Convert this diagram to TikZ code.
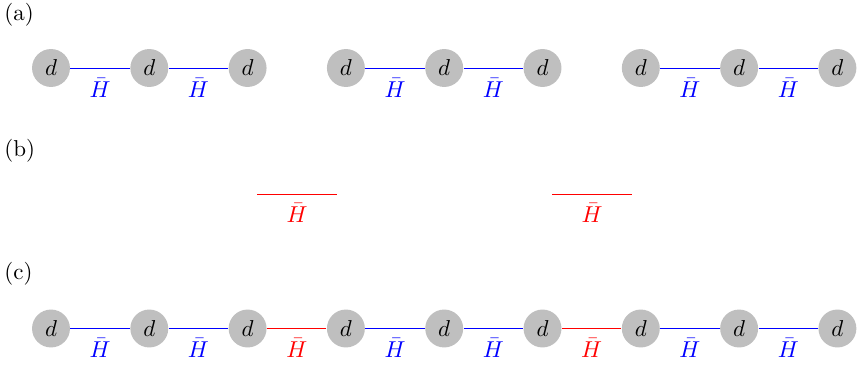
\documentclass[tikz,border=0pt]{standalone}
\usetikzlibrary{calc}
\begin{document}
\begin{tikzpicture}[x=0.435pt,y=-0.435pt,
  dnode/.style={circle,fill=gray!50,minimum size=16.5pt,inner sep=0pt},
  hlab/.style={anchor=base,inner sep=0pt},
  panel/.style={anchor=base west,inner sep=0pt}]
\useasboundingbox (0,0) rectangle (858,365);
\node[panel] (la) at (4,21) {(a)};
\node[panel] (lb) at (4,156) {(b)};
\node[panel] (lc) at (4,279) {(c)};
% nodes
\foreach \i in {0,...,8}{
  \node[dnode] (a\i) at ({51+98.3*\i},68) {$d$};
  \node[dnode] (c\i) at ({51+98.3*\i},328.5) {$d$};
}
% row (a)
\foreach \i/\j in {0/1,1/2,3/4,4/5,6/7,7/8}{
  \draw[blue] (a\i) -- (a\j);
  \node[hlab,text=blue] (ha\i) at ($(a\i)!0.5!(a\j)+(0,29)$) {$\bar{H}$};
}
% row (b)
\coordinate (b1s) at (257,194);
\coordinate (b1e) at (337,194);
\coordinate (b2s) at (552,194);
\coordinate (b2e) at (632,194);
\draw[red] (b1s) -- (b1e);
\draw[red] (b2s) -- (b2e);
\node[hlab,text=red] (hb1) at ($(b1s)!0.5!(b1e)+(0,28)$) {$\bar{H}$};
\node[hlab,text=red] (hb2) at ($(b2s)!0.5!(b2e)+(0,28)$) {$\bar{H}$};
% row (c)
\foreach \i/\j in {0/1,1/2,3/4,4/5,6/7,7/8}{
  \draw[blue] (c\i) -- (c\j);
  \node[hlab,text=blue] (hc\i) at ($(c\i)!0.5!(c\j)+(0,29)$) {$\bar{H}$};
}
\foreach \i/\j in {2/3,5/6}{
  \draw[red] (c\i) -- (c\j);
  \node[hlab,text=red] (hc\i) at ($(c\i)!0.5!(c\j)+(0,29)$) {$\bar{H}$};
}
\end{tikzpicture}
\end{document}
